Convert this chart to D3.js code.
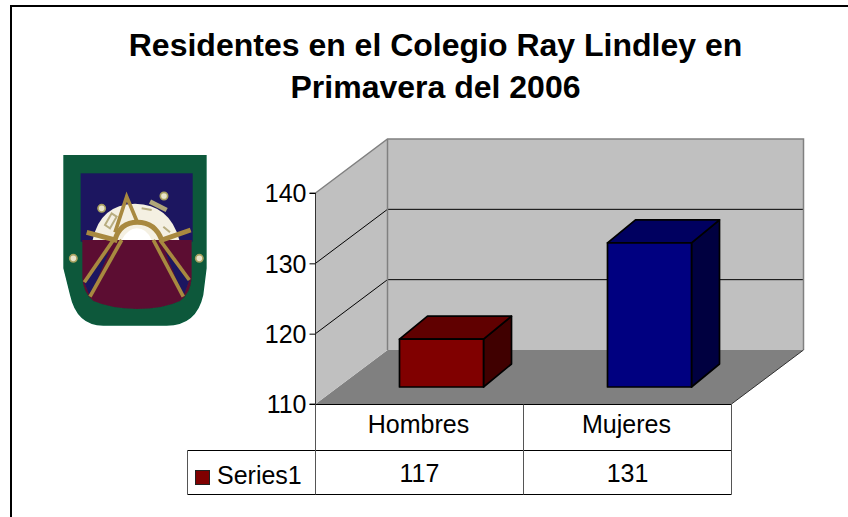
<!DOCTYPE html>
<html>
<head>
<meta charset="utf-8">
<script src="https://cdn.jsdelivr.net/npm/d3@7"></script>
<style>
	html, body { margin: 0; padding: 0; background: #fff; overflow: hidden; }
	svg { display: block; }
	text { font-family: "Liberation Sans", Arial, sans-serif; fill: #000; }
</style>
</head>
<body>
<div id="chart"></div>
<script>
(function() {
	var titleLines = ['Residentes en el Colegio Ray Lindley en', 'Primavera del 2006'];
	var categories = ['Hombres', 'Mujeres'];
	var seriesName = 'Series1';
	var tableValues = [117, 131];
	// heights as they are actually drawn in the picture
	var plottedValues = [116.8, 130.5];
	var barColors = ['#800000', '#000080'];
	var barTops = ['#600000', '#000060'];
	var barSides = ['#400000', '#000040'];
	var yTicks = [110, 120, 130, 140];

	var svg = d3.select('#chart').append('svg').attr('width', 848).attr('height', 517);

	// frame runs off the right and bottom of the page
	svg.append('rect').attr('x', 11).attr('y', 6).attr('width', 900).attr('height', 600)
		.attr('fill', '#fff').attr('stroke', '#000').attr('stroke-width', 2);

	svg.selectAll('text.title').data(titleLines).enter().append('text')
		.attr('class', 'title')
		.attr('x', 435.5).attr('y', function(d, i) { return 56 + i * 42; })
		.attr('text-anchor', 'middle')
		.style('font-size', '32px').style('font-weight', 'bold')
		.text(function(d) { return d; });

	var y = d3.scaleLinear().domain([110, 140]).range([404, 193]);
	var x = d3.scaleBand().domain(categories).range([315.5, 731.5]);
	var depthX = 72, depthY = 54;
	var barOffsetX = 22, barOffsetY = 17, barW = 84, barDepthX = 28, barDepthY = 23;
	var line = function(p) { return 'M' + p.map(function(q) { return q.join(','); }).join('L') + 'Z'; };

	var x0 = x.range()[0], x1 = x.range()[1];
	var yTop = y(140), yBot = y(110);

	// floor and walls
	svg.append('path').attr('fill', '#808080')
		.attr('d', line([[x0, yBot], [x0 + depthX, yBot - depthY], [x1 + depthX, yBot - depthY], [x1, yBot]]));
	svg.append('path').attr('fill', '#c0c0c0')
		.attr('d', line([[x0, yBot], [x0 + depthX, yBot - depthY], [x0 + depthX, yTop - depthY], [x0, yTop]]));
	svg.append('rect').attr('fill', '#c0c0c0')
		.attr('x', x0 + depthX).attr('y', yTop - depthY)
		.attr('width', x1 - x0).attr('height', yBot - yTop);

	// gridlines on both walls
	yTicks.slice(1, 3).forEach(function(t) {
		svg.append('path').attr('fill', 'none').attr('stroke', '#000')
			.attr('d', 'M' + x0 + ',' + y(t) + 'L' + (x0 + depthX) + ',' + (y(t) - depthY) + 'H' + (x1 + depthX));
	});

	// wall outline
	svg.append('path').attr('fill', 'none').attr('stroke', '#808080').attr('stroke-width', 1.5)
		.attr('d', 'M' + x0 + ',' + yTop + 'L' + (x0 + depthX) + ',' + (yTop - depthY)
			+ 'H' + (x1 + depthX) + 'V' + (yBot - depthY));
	svg.append('path').attr('fill', 'none').attr('stroke', '#808080').attr('stroke-width', 1.5)
		.attr('d', 'M' + (x0 + depthX) + ',' + (yTop - depthY) + 'V' + (yBot - depthY));
	svg.append('path').attr('fill', 'none').attr('stroke', '#333')
		.attr('d', 'M' + x1 + ',' + yBot + 'L' + (x1 + depthX) + ',' + (yBot - depthY));

	// bars
	var bars = svg.selectAll('g.bar').data(categories).enter().append('g').attr('class', 'bar')
		.attr('stroke', '#000').attr('stroke-width', 1.7).attr('stroke-linejoin', 'round');
	bars.each(function(c, i) {
		var g = d3.select(this);
		var l = x(c) + (x.bandwidth() - barW) / 2 + barOffsetX;
		var r = l + barW;
		var t = y(plottedValues[i]) - barOffsetY;
		var b = yBot - barOffsetY;
		g.append('path').attr('fill', barSides[i])
			.attr('d', line([[r, t], [r + barDepthX, t - barDepthY], [r + barDepthX, b - barDepthY], [r, b]]));
		g.append('path').attr('fill', barTops[i])
			.attr('d', line([[l, t], [l + barDepthX, t - barDepthY], [r + barDepthX, t - barDepthY], [r, t]]));
		g.append('path').attr('fill', barColors[i]).attr('d', line([[l, t], [r, t], [r, b], [l, b]]));
	});

	// y axis
	var yAxis = svg.append('g').attr('transform', 'translate(' + x0 + ',0)')
		.call(d3.axisLeft(y).tickValues(yTicks).tickSize(6).tickPadding(3));
	yAxis.select('.domain').attr('stroke', '#333').attr('d', 'M-6,' + yTop + 'H0V' + yBot + 'H-6');
	yAxis.selectAll('.tick line').attr('stroke', '#000');
	yAxis.selectAll('.tick text').style('font-size', '25px').attr('font-family', null).attr('dy', '0.35em');

	// data table
	var tTop = 404.5, tMid = 450.5, tBot = 494.5, tLeft = 187.5;
	var grid = svg.append('g').attr('fill', 'none');
	grid.append('path').attr('stroke', '#000')
		.attr('d', 'M' + x0 + ',' + tTop + 'H' + x1 + 'M' + tLeft + ',' + tMid + 'H' + x1 + 'M' + tLeft + ',' + tBot + 'H' + x1);
	grid.append('path').attr('stroke', '#555')
		.attr('d', 'M' + tLeft + ',' + tMid + 'V' + tBot + 'M' + x0 + ',' + tTop + 'V' + tBot
			+ 'M' + (x0 + x.bandwidth()) + ',' + tTop + 'V' + tBot + 'M' + x1 + ',' + tTop + 'V' + tBot);

	categories.forEach(function(c, i) {
		svg.append('text').attr('x', x(c) + x.bandwidth() / 2 - 1).attr('y', 433).attr('text-anchor', 'middle')
			.style('font-size', '25px').text(c);
		svg.append('text').attr('x', x(c) + x.bandwidth() / 2).attr('y', 481.5).attr('text-anchor', 'middle')
			.style('font-size', '25px').text(tableValues[i]);
	});
	svg.append('rect').attr('x', 195.5).attr('y', 470.5).attr('width', 14).attr('height', 14)
		.attr('fill', barColors[0]).attr('stroke', '#222');
	svg.append('text').attr('x', 217).attr('y', 484).style('font-size', '25px').text(seriesName);

	// college emblem, traced in 3x zoom pixels
	var defs = svg.append('defs');
	defs.append('filter').attr('id', 'soft').append('feGaussianBlur').attr('stdDeviation', 2.2);
	var logo = svg.append('g').attr('transform', 'translate(50,145) scale(0.3333)').attr('filter', 'url(#soft)');
	var maroonShape = 'M97,285H425V400Q422,445 390,468Q340,492 260,492Q180,490 130,468Q100,445 97,400Z';
	logo.append('path').attr('fill', '#07593a')
		.attr('d', 'M40,30H470V370L460,450Q440,542 350,542H160Q80,542 60,450L40,370Z');
	logo.append('rect').attr('fill', '#1c1660').attr('x', 92).attr('y', 85).attr('width', 336).attr('height', 205);
	logo.append('path').attr('fill', '#5c1132').attr('d', maroonShape);
	logo.append('path').attr('fill', '#1c1660').attr('d', 'M103,412L178,318L120,455ZM418,405L345,318L400,455Z');
	logo.append('path').attr('fill', '#f4f0e2').attr('d', 'M128,285Q150,178 255,176Q360,178 388,285Z');
	logo.append('path').attr('fill', '#fff').attr('d', 'M215,285Q235,250 260,250Q290,250 305,285Z');
	var stones = logo.append('g').attr('fill', 'none').attr('stroke', '#b8ad80').attr('stroke-width', 6);
	stones.append('path').attr('d', 'M165,240L185,205L200,215L180,250ZM275,190L305,195M340,245L360,262');
	var gold = logo.append('g').attr('fill', 'none').attr('stroke', '#a8893f').attr('stroke-width', 11);
	gold.append('path').attr('d', 'M190,285L103,412M215,285L120,455M330,285L418,405M310,285L400,455');
	gold.append('path').attr('stroke-width', 15).attr('d', 'M110,262L195,285Q210,232 262,232Q315,232 335,285L422,255');
	gold.append('path').attr('d', 'M195,262L230,155L262,232');
	gold.append('path').attr('stroke', '#b0a67a').attr('stroke-width', 14).attr('d', 'M300,170L350,195');
	[[155, 190], [342, 153], [70, 340], [448, 340]].forEach(function(p) {
		logo.append('circle').attr('cx', p[0]).attr('cy', p[1]).attr('r', 11)
			.attr('fill', '#e8e4cc').attr('stroke', '#a8a060').attr('stroke-width', 5);
	});
})();
</script>
</body>
</html>
